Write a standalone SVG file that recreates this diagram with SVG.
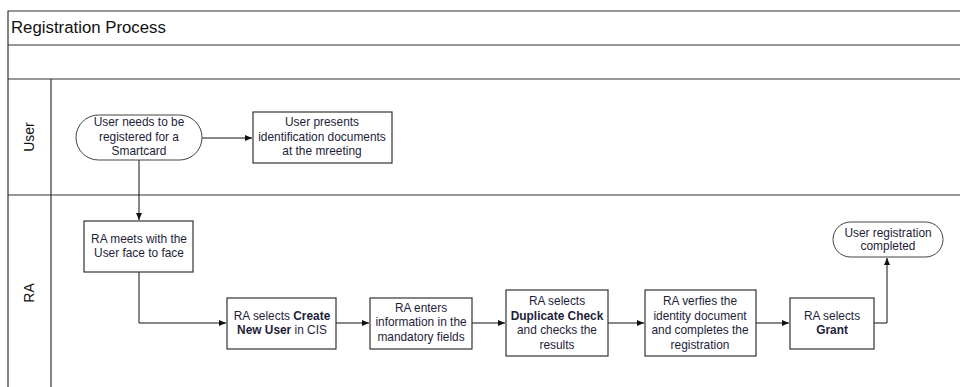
<svg xmlns="http://www.w3.org/2000/svg" width="960" height="387" viewBox="0 0 960 387">
<style>
.frame{fill:none;stroke:#333;stroke-width:1.2}
.box{fill:#fff;stroke:#333;stroke-width:1.2}
.term{fill:#fff;stroke:#444;stroke-width:1}
.t{font-family:"Liberation Sans",Arial,sans-serif;font-size:11.9px;fill:#1e1e3a;text-anchor:middle}
.b{font-weight:bold}
.lane{font-family:"Liberation Sans",Arial,sans-serif;font-size:14px;fill:#111;text-anchor:middle}
.conn{fill:none;stroke:#111;stroke-width:1}
</style>
<defs>
<marker id="arr" markerWidth="8" markerHeight="8" refX="7" refY="4" orient="auto" markerUnits="userSpaceOnUse">
<path d="M0,1 L7,4 L0,7 Z" fill="#111"/>
</marker>
</defs>
<rect width="960" height="387" fill="#fff"/>
<g id="pool">
<path class="frame" d="M8,387 V11 H960 M8,45 H960 M8,79 H960 M8,195 H960 M51,79 V387"/>
<text x="11" y="33" font-family="&quot;Liberation Sans&quot;,Arial,sans-serif" font-size="16.8" fill="#111">Registration Process</text>
<text class="lane" transform="translate(34,137) rotate(-90)">User</text>
<text class="lane" transform="translate(34,293) rotate(-90)">RA</text>
</g>
<g id="connectors">
<line class="conn" x1="202" y1="138" x2="252" y2="138" marker-end="url(#arr)"/>
<line class="conn" x1="139" y1="160" x2="139" y2="220" marker-end="url(#arr)"/>
<polyline class="conn" points="139,272 139,323 226,323" marker-end="url(#arr)"/>
<line class="conn" x1="336" y1="323" x2="369" y2="323" marker-end="url(#arr)"/>
<line class="conn" x1="472" y1="323" x2="505" y2="323" marker-end="url(#arr)"/>
<line class="conn" x1="608" y1="323" x2="644" y2="323" marker-end="url(#arr)"/>
<line class="conn" x1="756" y1="323" x2="789" y2="323" marker-end="url(#arr)"/>
<polyline class="conn" points="874,323 887,323 887,258" marker-end="url(#arr)"/>
</g>
<g id="start">
<rect class="term" x="76" y="115" width="126" height="45" rx="22.5"/>
<text class="t" x="139" y="126">User needs to be</text>
<text class="t" x="139" y="141">registered for a</text>
<text class="t" x="139" y="155">Smartcard</text>
</g>
<g id="present">
<rect class="box" x="253" y="112" width="139" height="51"/>
<text class="t" x="322" y="126">User presents</text>
<text class="t" x="322" y="141">identification documents</text>
<text class="t" x="322" y="155">at the mreeting</text>
</g>
<g id="meet">
<rect class="box" x="84" y="221" width="109" height="51"/>
<text class="t" x="139" y="243">RA meets with the</text>
<text class="t" x="139" y="257">User face to face</text>
</g>
<g id="create">
<rect class="box" x="227" y="298" width="109" height="51"/>
<text class="t" x="282" y="320">RA selects <tspan class="b">Create</tspan></text>
<text class="t" x="282" y="334"><tspan class="b">New User</tspan> in CIS</text>
</g>
<g id="enter">
<rect class="box" x="370" y="298" width="102" height="51"/>
<text class="t" x="421" y="312">RA enters</text>
<text class="t" x="421" y="326">information in the</text>
<text class="t" x="421" y="341">mandatory fields</text>
</g>
<g id="duplicate">
<rect class="box" x="506" y="290" width="102" height="66"/>
<text class="t" x="557" y="305">RA selects</text>
<text class="t b" x="557" y="320">Duplicate Check</text>
<text class="t" x="557" y="334">and checks the</text>
<text class="t" x="557" y="349">results</text>
</g>
<g id="verify">
<rect class="box" x="645" y="290" width="111" height="66"/>
<text class="t" x="700" y="305">RA verfies the</text>
<text class="t" x="700" y="320">identity document</text>
<text class="t" x="700" y="334">and completes the</text>
<text class="t" x="700" y="349">registration</text>
</g>
<g id="grant">
<rect class="box" x="790" y="298" width="84" height="51"/>
<text class="t" x="832" y="320">RA selects</text>
<text class="t b" x="832" y="334">Grant</text>
</g>
<g id="end">
<rect class="term" x="833" y="222" width="110" height="35" rx="17.5"/>
<text class="t" x="888" y="237">User registration</text>
<text class="t" x="888" y="250">completed</text>
</g>
</svg>
